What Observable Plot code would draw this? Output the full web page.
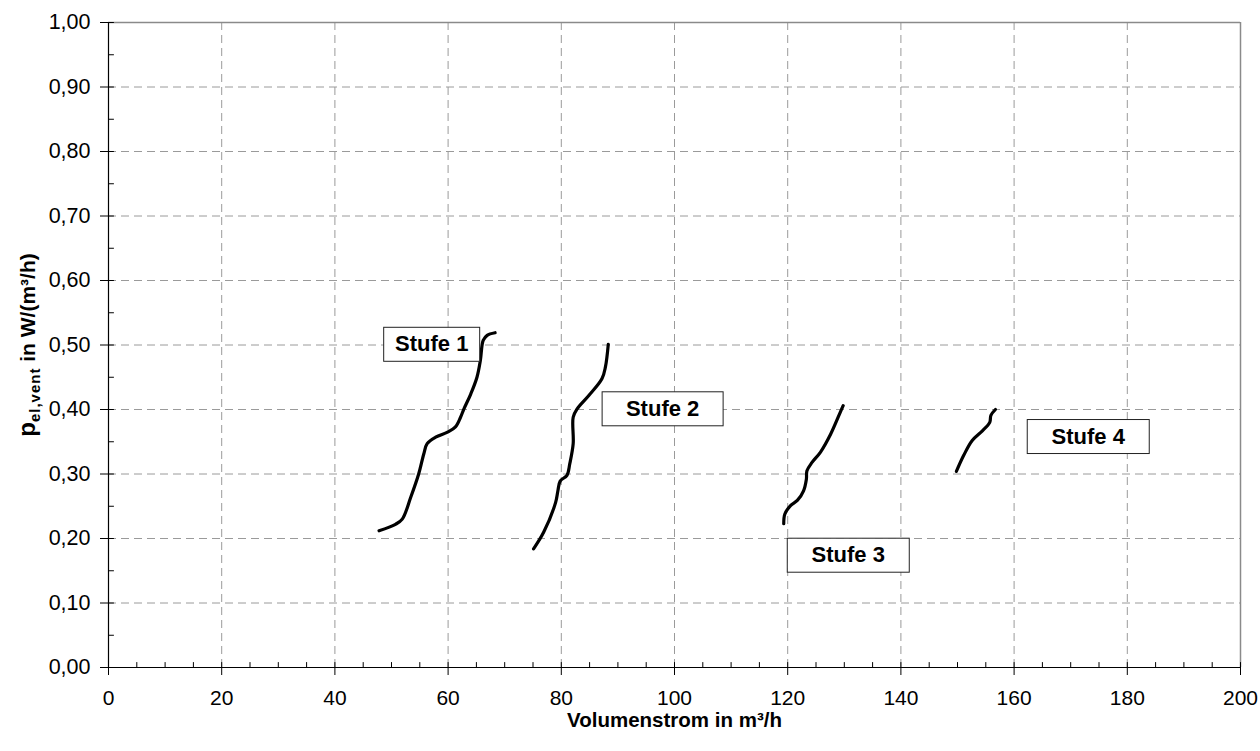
<!DOCTYPE html>
<html>
<head>
<meta charset="utf-8">
<script src="https://cdn.jsdelivr.net/npm/d3@7"></script>
<script src="https://cdn.jsdelivr.net/npm/@observablehq/plot@0.6"></script>
<style>
  html, body { margin: 0; padding: 0; background: white; overflow: hidden; }
  #wrap { position: relative; width: 1260px; height: 751px; }
  #title { position: absolute; top: -17px; left: 0; width: 1292px; text-align: center;
           font: bold 24px "Liberation Sans", Arial, sans-serif; line-height: 24px; color: black; }
  #chart { position: absolute; top: 0; left: 0; }
</style>
</head>
<body>
<div id="wrap">
  <div id="title">Volumenstrombezogener Hilfsenergiebedarf</div>
  <div id="chart"></div>
</div>
<script>
// ---- data ----
const stufe1X = [47.8, 50.7, 51.9, 53.4, 54.8, 55.7, 56.3, 57.8, 59.9, 61.3, 62.2, 62.8, 64.0, 65.1, 65.7, 66.2, 66.9, 68.3];
const stufe1Y = [0.212, 0.222, 0.230, 0.264, 0.300, 0.331, 0.347, 0.357, 0.365, 0.373, 0.388, 0.401, 0.424, 0.450, 0.476, 0.507, 0.515, 0.519];
const stufe2X = [75.1, 76.9, 79.0, 79.4, 79.8, 81.0, 81.5, 82.1, 82.1, 82.8, 84.9, 87.2, 87.8, 88.3];
const stufe2Y = [0.184, 0.210, 0.256, 0.274, 0.289, 0.298, 0.316, 0.347, 0.388, 0.401, 0.422, 0.448, 0.466, 0.501];
const stufe3X = [119.3, 119.5, 120.5, 121.7, 122.8, 123.3, 123.4, 124.3, 125.8, 127.6, 129.3, 129.8];
const stufe3Y = [0.223, 0.238, 0.251, 0.259, 0.274, 0.292, 0.305, 0.318, 0.334, 0.362, 0.396, 0.406];
const stufe4X = [149.8, 151.1, 152.6, 154.4, 155.7, 155.9, 156.7];
const stufe4Y = [0.304, 0.329, 0.352, 0.367, 0.380, 0.391, 0.400];

const labelNames = ["Stufe 1", "Stufe 2", "Stufe 3", "Stufe 4"];
const labelX = [57.1, 97.9, 130.7, 173.1];
const labelY = [0.498, 0.398, 0.171, 0.355];

const xTicks = [0, 20, 40, 60, 80, 100, 120, 140, 160, 180, 200];
const yTicks = [0, 0.1, 0.2, 0.3, 0.4, 0.5, 0.6, 0.7, 0.8, 0.9, 1.0];
const xMinor = d3.range(0, 201, 5);
const yMinor = d3.range(0, 21).map(i => i / 20);
const xTitle = "Volumenstrom in m³/h";

// ---- build table ----
const series = [
  {name: "Stufe 1", xs: stufe1X, ys: stufe1Y},
  {name: "Stufe 2", xs: stufe2X, ys: stufe2Y},
  {name: "Stufe 3", xs: stufe3X, ys: stufe3Y},
  {name: "Stufe 4", xs: stufe4X, ys: stufe4Y}
];
const rows = series.flatMap(s => s.xs.map((x, i) => ({s: s.name, x, y: s.ys[i]})));
const labels = labelNames.map((t, i) => ({t, x: labelX[i], y: labelY[i]}));

const tickShape = { draw(context, l) { context.moveTo(0, 0); context.lineTo(0, -l); } };
const boxW = [96, 121, 122, 122];
const boxH = 34;

const chart = Plot.plot({
  width: 1260,
  height: 751,
  marginLeft: 108,
  marginRight: 20,
  marginTop: 22,
  marginBottom: 84,
  style: {fontFamily: "'Liberation Sans', Arial, sans-serif", fontSize: "21px", color: "black", background: "white"},
  x: {domain: [0, 200]},
  y: {domain: [0, 1]},
  marks: [
    Plot.gridX(xTicks, {stroke: "#9a9a9a", strokeOpacity: 1, strokeDasharray: "8,5"}),
    Plot.gridY(yTicks, {stroke: "#9a9a9a", strokeOpacity: 1, strokeDasharray: "8,5"}),
    Plot.ruleY([1], {stroke: "#8a8a8a", strokeWidth: 1.5}),
    Plot.ruleX([200], {stroke: "#8a8a8a", strokeWidth: 1.5}),
    Plot.ruleY([0], {stroke: "black", strokeWidth: 1.2}),
    Plot.ruleX([0], {stroke: "black", strokeWidth: 1.2}),
    // inside ticks (minor + major)
    Plot.vector(xMinor, {x: d => d, y: 0, length: 5, rotate: 0, anchor: "start", shape: tickShape, stroke: "black", strokeWidth: 1}),
    Plot.vector(yMinor, {x: 0, y: d => d, length: 5, rotate: 90, anchor: "start", shape: tickShape, stroke: "black", strokeWidth: 1}),
    Plot.axisX({ticks: xTicks, tickSize: 8, tickPadding: 15, label: null, fontSize: 21, tickFormat: d => String(d)}),
    Plot.axisY({ticks: yTicks, tickSize: 8, tickPadding: 10, label: null, fontSize: 21.5,
                tickFormat: d => d3.format(".2f")(d).replace(".", ",")}),
    Plot.line(rows, {x: "x", y: "y", z: "s", stroke: "black", strokeWidth: 3.2, curve: "catmull-rom",
                     strokeLinecap: "round", strokeLinejoin: "round"}),
    Plot.text(labels, {
      x: "x", y: "y", text: "t", fontWeight: "bold", fontSize: 22, dy: -2, fill: "black",
      render(index, scales, values, dimensions, context, next) {
        const g = next(index, scales, values, dimensions, context);
        const ns = "http://www.w3.org/2000/svg";
        for (const i of index) {
          const r = document.createElementNS(ns, "rect");
          r.setAttribute("x", values.x[i] - boxW[i] / 2);
          r.setAttribute("y", values.y[i] - boxH / 2);
          r.setAttribute("width", boxW[i]);
          r.setAttribute("height", boxH);
          r.setAttribute("fill", "white");
          r.setAttribute("stroke", "#222");
          r.setAttribute("stroke-width", "1");
          g.insertBefore(r, g.firstChild);
        }
        return g;
      }
    }),
    Plot.text([xTitle], {frameAnchor: "bottom", lineAnchor: "middle", dy: 53, text: d => d, fontWeight: "bold", fontSize: 20.5, fill: "black"})
  ]
});

document.getElementById("chart").appendChild(chart);

// y-axis title with subscript
const svg = d3.select(chart);
const yl = svg.append("text")
  .attr("transform", "translate(35,345) rotate(-90)")
  .attr("text-anchor", "middle")
  .attr("font-family", "'Liberation Sans', Arial, sans-serif")
  .attr("font-weight", "bold")
  .attr("font-size", 21)
  .attr("fill", "black");
yl.append("tspan").attr("font-size", 24).text("p");
yl.append("tspan").attr("font-size", 15).attr("dy", 5).attr("letter-spacing", 1).text("el,vent");
yl.append("tspan").attr("dy", -5).text(" in W/(m³/h)");
</script>
</body>
</html>
